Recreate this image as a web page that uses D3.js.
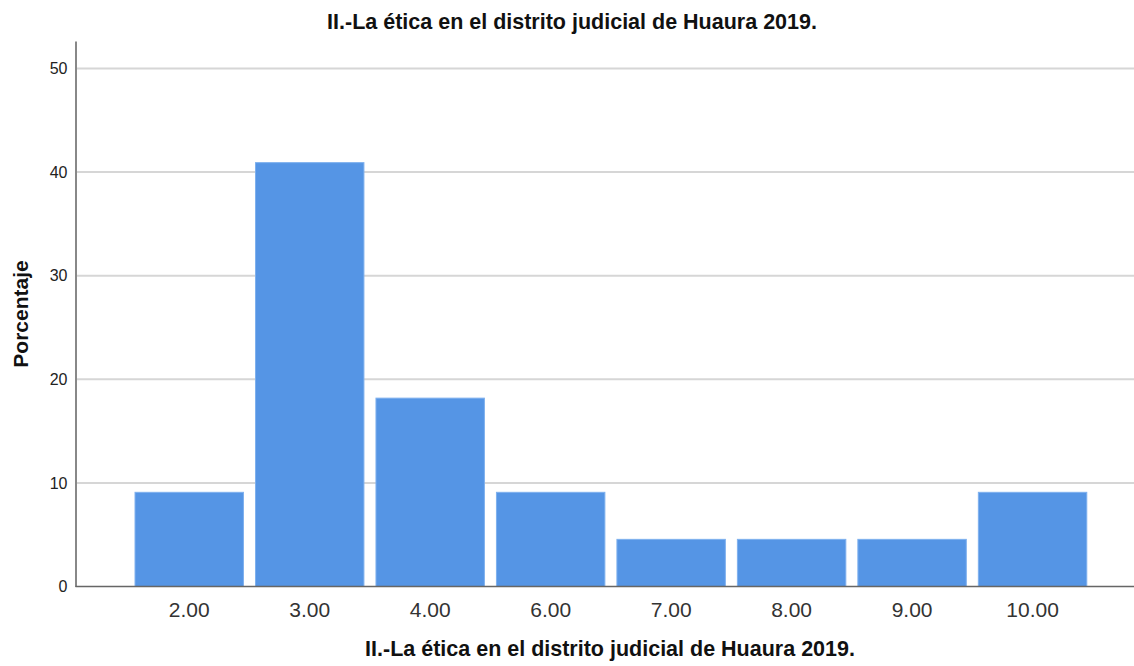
<!DOCTYPE html>
<html>
<head>
<meta charset="utf-8">
<script src="https://cdn.jsdelivr.net/npm/d3@7"></script>
<style>
  body { margin: 0; background: #fff; }
  text { font-family: "Liberation Sans", Arial, sans-serif; }
</style>
</head>
<body>
<div id="chart"></div>
<script>
// data (22 answers -> percentages)
const categories = ["2.00", "3.00", "4.00", "6.00", "7.00", "8.00", "9.00", "10.00"];
const percents = [9.09, 40.91, 18.18, 9.09, 4.55, 4.55, 4.55, 9.09];
const yTicks = [0, 10, 20, 30, 40, 50];

const titleText = "II.-La ética en el distrito judicial de Huaura 2019.";
const xLabel = "II.-La ética en el distrito judicial de Huaura 2019.";
const yLabel = "Porcentaje";

const width = 1134, height = 666;
const margin = {top: 41, right: 0, bottom: 79.5, left: 75.5};

const svg = d3.select("#chart").append("svg")
    .attr("width", width)
    .attr("height", height);

const x = d3.scaleBand()
    .domain(categories)
    .range([129, 1092.8])
    .paddingInner(0.1)
    .paddingOuter(0.05);

const y = d3.scaleLinear()
    .domain([0, 52.65])
    .range([height - margin.bottom, margin.top]);

// gridlines
svg.append("g")
    .selectAll("line")
    .data(yTicks.filter(d => d > 0))
    .join("line")
    .attr("x1", margin.left)
    .attr("x2", width)
    .attr("y1", d => y(d))
    .attr("y2", d => y(d))
    .attr("stroke", "#d6d6d6")
    .attr("stroke-width", 2);

// bars
svg.append("g")
    .selectAll("rect")
    .data(percents)
    .join("rect")
    .attr("x", (d, i) => x(categories[i]))
    .attr("y", d => y(d))
    .attr("width", x.bandwidth())
    .attr("height", d => y(0) - y(d))
    .attr("fill", "#5595e5")
    .attr("stroke", "#7eb0ee")
    .attr("stroke-width", 1);

// y axis
const yAxis = svg.append("g")
    .attr("transform", `translate(${margin.left},0)`)
    .call(d3.axisLeft(y).tickValues(yTicks).tickSize(0).tickPadding(8));
yAxis.select(".domain").attr("stroke", "#888").attr("stroke-width", 2);
yAxis.selectAll("text")
    .attr("font-size", 16)
    .attr("fill", "#222");

// x axis
const xAxis = svg.append("g")
    .attr("transform", `translate(0,${y(0)})`)
    .call(d3.axisBottom(x).tickSize(0).tickPadding(15.5));
xAxis.select(".domain")
    .attr("d", `M${margin.left},0H${width}`)
    .attr("stroke", "#666")
    .attr("stroke-width", 1.5);
xAxis.selectAll("text")
    .attr("font-size", 21)
    .attr("fill", "#333");

// title
svg.append("text")
    .attr("x", 572)
    .attr("y", 29)
    .attr("text-anchor", "middle")
    .attr("font-size", 21.5)
    .attr("font-weight", "bold")
    .attr("fill", "#111")
    .text(titleText);

// x label
svg.append("text")
    .attr("x", 610)
    .attr("y", 656)
    .attr("text-anchor", "middle")
    .attr("font-size", 21.5)
    .attr("font-weight", "bold")
    .attr("fill", "#111")
    .text(xLabel);

// y label
svg.append("text")
    .attr("transform", "translate(28,314) rotate(-90)")
    .attr("text-anchor", "middle")
    .attr("font-size", 21)
    .attr("font-weight", "bold")
    .attr("fill", "#111")
    .text(yLabel);
</script>
</body>
</html>
